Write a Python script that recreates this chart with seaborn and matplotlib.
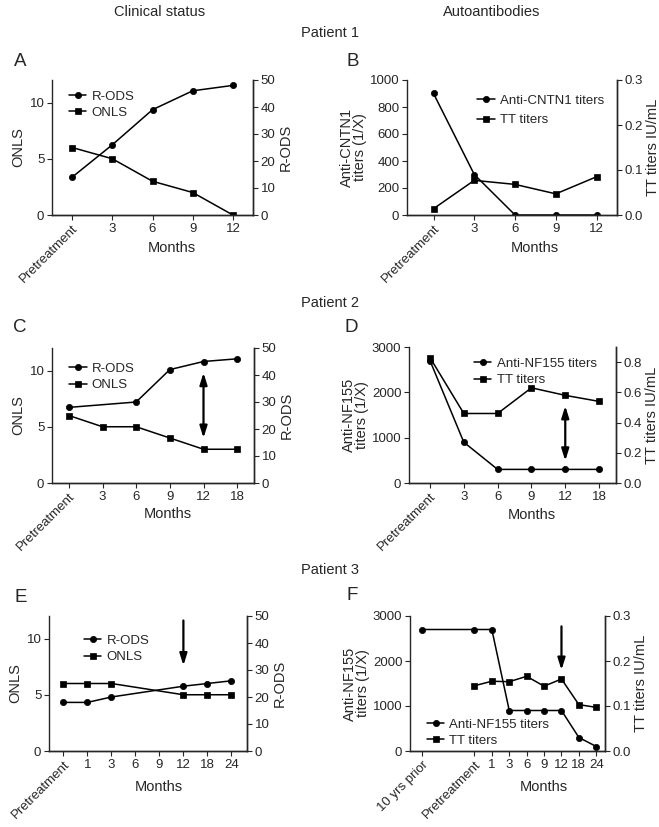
import numpy as np
import pandas as pd
import seaborn as sns
import matplotlib.pyplot as plt

# Patient 1
p1_months = ['Pretreatment', '3', '6', '9', '12']
p1_onls = [6, 5, 3, 2, 0]
p1_rods = [14, 26, 39, 46, 48]
p1_cntn1 = [900, 300, 0, 0, 0]
p1_tt = [0.014, 0.077, 0.068, 0.047, 0.085]

# Patient 2
p2_months = ['Pretreatment', '3', '6', '9', '12', '18']
p2_onls = [6, 5, 5, 4, 3, 3]
p2_rods = [28, np.nan, 30, 42, 45, 46]
p2_nf155 = [2700, 900, 300, 300, 300, 300]
p2_tt = [0.83, 0.46, 0.46, 0.63, 0.58, 0.54]

# Patient 3
p3_months = ['Pretreatment', '1', '3', '6', '9', '12', '18', '24']
p3_onls = [6, 6, 6, np.nan, np.nan, 5, 5, 5]
p3_rods = [18, 18, 20, np.nan, np.nan, 24, 25, 26]
p3_ab_months = ['10 yrs prior', 'Pretreatment', '1', '3', '6', '9', '12', '18', '24']
p3_ab_pos = [0, 3, 4, 5, 6, 7, 8, 9, 10]
p3_nf155 = [2700, 2700, 2700, 900, 900, 900, 900, 300, 100]
p3_tt = [np.nan, 0.145, 0.155, 0.154, 0.166, 0.144, 0.16, 0.103, 0.097]

sns.set_style('ticks')
plt.rcParams['font.family'] = ['Liberation Sans', 'DejaVu Sans']
plt.rcParams['axes.linewidth'] = 1.0
plt.rcParams['xtick.major.size'] = 3.5
plt.rcParams['ytick.major.size'] = 3.5
plt.rcParams['xtick.major.pad'] = 2
plt.rcParams['ytick.major.pad'] = 2
plt.rcParams['xtick.labelsize'] = 9.5
plt.rcParams['ytick.labelsize'] = 9.5
plt.rcParams['axes.labelsize'] = 10.5

W, H = 659, 827
fig = plt.figure(figsize=(W / 100, H / 100), dpi=100)


def make_axes(left, right, top, bottom):
    ax = fig.add_axes([left / W, 1 - bottom / H, (right - left) / W, (bottom - top) / H])
    ax.box_px = (left, right, top, bottom)
    return ax


def draw(ax, x, y, marker, label):
    df = pd.DataFrame({'x': x, 'y': y}).dropna()
    sns.lineplot(data=df, x='x', y='y', ax=ax, color='black', marker=marker,
                 markersize=4.5, markeredgecolor='black',
                 markeredgewidth=0.5, linewidth=1.1, legend=False)
    line = ax.lines[-1]
    line.set_label(label)
    return line


def style(ax, ax2, pos, labels, xlim, months_xy):
    for a in (ax, ax2):
        a.spines['top'].set_visible(False)
    ax2.spines['left'].set_visible(False)
    ax.set_xlim(*xlim)
    ax.set_xticks(pos)
    ax.set_xticklabels(labels)
    for t in ax.get_xticklabels():
        if len(t.get_text()) > 3:
            t.set_rotation(45)
            t.set_ha('right')
            t.set_va('top')
            t.set_rotation_mode('anchor')
    ax.set_xlabel('Months')
    left, right, top, bottom = ax.box_px
    mx, my = months_xy
    ax.xaxis.set_label_coords((mx - left) / (right - left), (bottom - my) / (bottom - top))
    ax.xaxis.label.set_va('center')


def legend(ax2, lines, spacing=0.3, **kw):
    ax2.legend(handles=lines, frameon=False, fontsize=9.5, handlelength=1.3,
               handletextpad=0.4, labelspacing=spacing, borderaxespad=0, **kw)


# ---------- A ----------
ax = make_axes(52, 253, 80, 215)
ax2 = ax.twinx()
x = list(range(len(p1_months)))
l_on = draw(ax, x, p1_onls, 's', 'ONLS')
l_ro = draw(ax2, x, p1_rods, 'o', 'R-ODS')
ax.set_ylim(0, 12)
ax.set_yticks([0, 5, 10])
ax2.set_ylim(0, 50)
ax2.set_yticks([0, 10, 20, 30, 40, 50])
ax.set_ylabel('ONLS', labelpad=3)
ax2.set_ylabel('R-ODS', labelpad=2)
style(ax, ax2, x, p1_months, (-0.5, 4.5), (172, 248))
legend(ax2, [l_ro, l_on], loc='upper left', bbox_to_anchor=(0.06, 0.96))

# ---------- B ----------
ax = make_axes(407, 617, 80, 215)
ax2 = ax.twinx()
l_ab = draw(ax, x, p1_cntn1, 'o', 'Anti-CNTN1 titers')
l_tt = draw(ax2, x, p1_tt, 's', 'TT titers')
ax.set_ylim(0, 1000)
ax.set_yticks(range(0, 1001, 200))
ax2.set_ylim(0, 0.3)
ax2.set_yticks([0, 0.1, 0.2, 0.3])
ax2.set_yticklabels(['0.0', '0.1', '0.2', '0.3'])
ax.set_ylabel('Anti-CNTN1\ntiters (1/X)', linespacing=0.95, labelpad=2)
ax2.set_ylabel('TT titers IU/mL', labelpad=2)
style(ax, ax2, x, p1_months, (-0.65, 4.5), (535, 248))
legend(ax2, [l_ab, l_tt], spacing=0.55, loc='upper left', bbox_to_anchor=(0.31, 0.93))

# ---------- C ----------
ax = make_axes(52, 254, 348, 483)
ax2 = ax.twinx()
x = list(range(len(p2_months)))
l_on = draw(ax, x, p2_onls, 's', 'ONLS')
l_ro = draw(ax2, x, p2_rods, 'o', 'R-ODS')
ax.set_ylim(0, 12)
ax.set_yticks([0, 5, 10])
ax2.set_ylim(0, 50)
ax2.set_yticks([0, 10, 20, 30, 40, 50])
ax.set_ylabel('ONLS', labelpad=3)
ax2.set_ylabel('R-ODS', labelpad=2)
style(ax, ax2, x, p2_months, (-0.5, 5.5), (168, 514))
legend(ax2, [l_ro, l_on], loc='upper left', bbox_to_anchor=(0.06, 0.93))
ax.annotate('', xy=(4, 9.8), xytext=(4, 4.0),
            arrowprops=dict(arrowstyle='<|-|>,head_length=0.7,head_width=0.22',
                            color='black', lw=1.6, shrinkA=0, shrinkB=0))

# ---------- D ----------
ax = make_axes(409, 616, 347, 483)
ax2 = ax.twinx()
l_ab = draw(ax, x, p2_nf155, 'o', 'Anti-NF155 titers')
l_tt = draw(ax2, x, p2_tt, 's', 'TT titers')
ax.set_ylim(0, 3000)
ax.set_yticks([0, 1000, 2000, 3000])
ax2.set_ylim(0, 0.9)
ax2.set_yticks([0, 0.2, 0.4, 0.6, 0.8])
ax2.set_yticklabels(['0.0', '0.2', '0.4', '0.6', '0.8'])
ax.set_ylabel('Anti-NF155\ntiters (1/X)', linespacing=0.95, labelpad=2)
ax2.set_ylabel('TT titers IU/mL', labelpad=2)
style(ax, ax2, x, p2_months, (-0.62, 5.5), (532, 515))
legend(ax2, [l_ab, l_tt], loc='upper left', bbox_to_anchor=(0.29, 0.96))
ax.annotate('', xy=(4, 1700), xytext=(4, 490),
            arrowprops=dict(arrowstyle='<|-|>,head_length=0.7,head_width=0.22',
                            color='black', lw=1.6, shrinkA=0, shrinkB=0))

# ---------- E ----------
ax = make_axes(49, 247, 616, 751)
ax2 = ax.twinx()
x = list(range(len(p3_months)))
l_on = draw(ax, x, p3_onls, 's', 'ONLS')
l_ro = draw(ax2, x, p3_rods, 'o', 'R-ODS')
ax.set_ylim(0, 12)
ax.set_yticks([0, 5, 10])
ax2.set_ylim(0, 50)
ax2.set_yticks([0, 10, 20, 30, 40, 50])
ax.set_ylabel('ONLS', labelpad=3)
ax2.set_ylabel('R-ODS', labelpad=2)
style(ax, ax2, x, p3_months, (-0.6, 7.65), (159, 787))
legend(ax2, [l_ro, l_on], loc='upper left', bbox_to_anchor=(0.15, 0.90))
ax.annotate('', xy=(5, 7.6), xytext=(5, 11.6),
            arrowprops=dict(arrowstyle='-|>,head_length=0.7,head_width=0.22',
                            color='black', lw=1.6, shrinkA=0, shrinkB=0))

# ---------- F ----------
ax = make_axes(410, 605, 616, 751)
ax2 = ax.twinx()
l_ab = draw(ax, p3_ab_pos, p3_nf155, 'o', 'Anti-NF155 titers')
l_tt = draw(ax2, p3_ab_pos, p3_tt, 's', 'TT titers')
ax.set_ylim(0, 3000)
ax.set_yticks([0, 1000, 2000, 3000])
ax2.set_ylim(0, 0.3)
ax2.set_yticks([0, 0.1, 0.2, 0.3])
ax2.set_yticklabels(['0.0', '0.1', '0.2', '0.3'])
ax.set_ylabel('Anti-NF155\ntiters (1/X)', linespacing=0.95, labelpad=2)
ax2.set_ylabel('TT titers IU/mL', labelpad=2)
style(ax, ax2, p3_ab_pos, p3_ab_months, (-0.7, 10.5), (544, 787))
legend(ax2, [l_ab, l_tt], loc='lower left', bbox_to_anchor=(0.06, -0.01))
ax.annotate('', xy=(8, 1800), xytext=(8, 2770),
            arrowprops=dict(arrowstyle='-|>,head_length=0.7,head_width=0.22',
                            color='black', lw=1.6, shrinkA=0, shrinkB=0))

# headers and panel letters
fig.text(160 / W, 1 - 12 / H, 'Clinical status', ha='center', va='center', fontsize=10.5)
fig.text(492 / W, 1 - 12 / H, 'Autoantibodies', ha='center', va='center', fontsize=10.5)
for name, yy in [('Patient 1', 33), ('Patient 2', 303), ('Patient 3', 570)]:
    fig.text(330 / W, 1 - yy / H, name, ha='center', va='center', fontsize=10.5)
for letter, px, py in [('A', 14, 61), ('B', 347, 61), ('C', 13, 327),
                       ('D', 345, 328), ('E', 14, 597), ('F', 346, 596)]:
    fig.text(px / W, 1 - py / H, letter, ha='left', va='center', fontsize=13.5)

plt.savefig('out.png', dpi=100)
